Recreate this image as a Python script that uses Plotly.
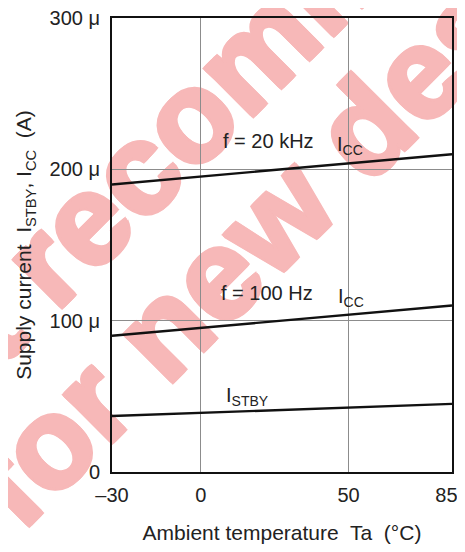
# Supply current vs ambient temperature (datasheet-style chart)
import plotly.graph_objects as go

# temperatures (degC) at the ends of each straight line
temps = [-30, 85]

# supply current in microamps
icc_20khz = [190, 210]
icc_100hz = [90, 110]
i_stby = [37, 45]

x_ticks = [-30, 0, 50, 85]
x_ticktext = ["–30", "0", "50", "85\u00a0\u00a0"]
y_ticks = [0, 100, 200, 300]
y_ticktext = ["0", "100 μ", "200 μ", "300 μ"]

watermark_lines = ["Not recommended", "for new design"]

FONT = "Liberation Sans, Arial, sans-serif"
PINK = "rgb(247,184,184)"
TXT = "#222222"

fig = go.Figure()

for vals in (icc_20khz, icc_100hz, i_stby):
    fig.add_trace(go.Scatter(
        x=temps, y=vals, mode="lines",
        line=dict(color="#111111", width=2.4),
        showlegend=False, hoverinfo="skip",
    ))

# watermark, one shape label per line, drawn under grid and traces
thick = ", ".join(f"{dx}px {dy}px 0 {PINK}" for dx in (-2, 0, 2) for dy in (-2, 0, 2))
for (cx, cy), txt in zip([(0.368, 0.925), (0.553, 0.655)], watermark_lines):
    fig.add_shape(
        type="rect", xref="paper", yref="paper",
        x0=cx - 0.01, x1=cx + 0.01, y0=cy - 0.01, y1=cy + 0.01,
        line=dict(width=0), fillcolor="rgba(0,0,0,0)", layer="below",
        label=dict(
            text=f"<b>{txt}</b>",
            textangle=-45, textposition="middle center",
            font=dict(size=128, color=PINK, family=FONT, shadow=thick),
        ),
    )

# curve labels
labels = [
    (0.32, 219, "f = 20 kHz"),
    (0.655, 216, "I<sub>CC</sub>"),
    (0.314, 118, "f = 100 Hz"),
    (0.658, 115, "I<sub>CC</sub>"),
    (0.328, 50, "I<sub>STBY</sub>"),
]
for x, y, txt in labels:
    fig.add_annotation(
        x=x, xref="paper", y=y, yref="y", text=txt,
        xanchor="left", yanchor="middle", showarrow=False,
        font=dict(size=20, color=TXT, family=FONT),
    )

axis_common = dict(
    showgrid=True, gridcolor="#8c8c8c", gridwidth=1.3, zeroline=False,
    showline=True, linecolor="#111111", linewidth=2, mirror=True,
    ticks="", automargin=False, ticklabeloverflow="allow",
    tickfont=dict(size=20, color=TXT, family=FONT),
)
fig.update_xaxes(
    range=[-30, 85], tickvals=x_ticks, ticktext=x_ticktext,
    ticklabelstandoff=4, **axis_common,
    title=dict(text="Ambient temperature  Ta  (°C)", standoff=20,
               font=dict(size=21, color=TXT, family=FONT)),
)
fig.update_yaxes(
    range=[0, 300], tickvals=y_ticks, ticktext=y_ticktext,
    ticklabelstandoff=6, **axis_common,
    title=dict(text="Supply current  I<sub>STBY</sub>, I<sub>CC</sub>  (A)", standoff=12,
               font=dict(size=21, color=TXT, family=FONT)),
)

# the page body adds an 8 px margin, so the figure is 8 px smaller each way
fig.update_layout(
    width=457, height=544,
    margin=dict(l=104, r=13, t=10, b=80, autoexpand=False),
    paper_bgcolor="white", plot_bgcolor="rgba(0,0,0,0)",
    showlegend=False,
)

fig.write_html("out.html")
